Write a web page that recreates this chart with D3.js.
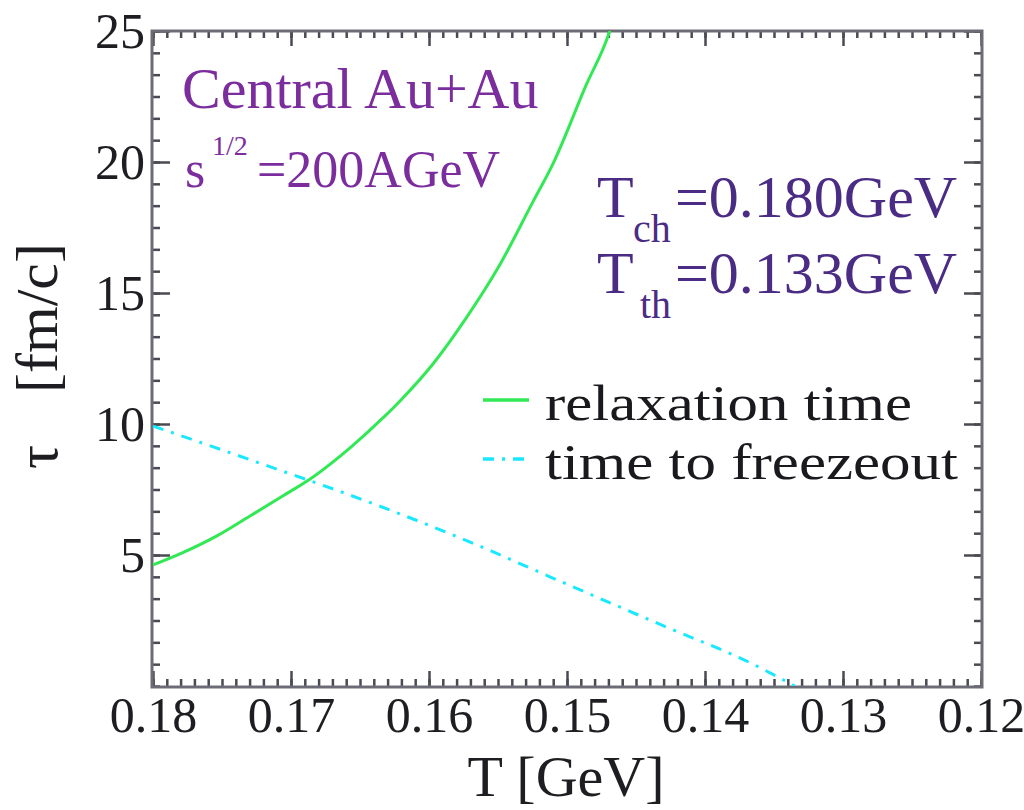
<!DOCTYPE html>
<html>
<head>
<meta charset="utf-8">
<script src="https://cdn.jsdelivr.net/npm/d3@7/dist/d3.min.js"></script>
<style>
  body { margin: 0; background: #fff; }
  svg { display: block; }
  .serif { font-family: "Liberation Serif", "Times New Roman", serif; }
  .tick text { font-family: "Liberation Serif", "Times New Roman", serif; font-size: 50px; fill: #1e1e22; }
  .tick line { stroke: #4a4a52; stroke-width: 2.5px; }
</style>
</head>
<body>
<div id="chart"></div>
<script>
// relaxation time curve (green, solid)
var relaxT   = [0.18, 0.1778, 0.1754, 0.1730, 0.1706, 0.1684, 0.1657, 0.1633, 0.1621, 0.1597, 0.1573, 0.1549, 0.1525, 0.1510, 0.1486, 0.1470, 0.1466];
var relaxTau = [4.62, 5.10, 5.72, 6.48, 7.25, 7.98, 9.10, 10.25, 10.88, 12.30, 14.05, 16.05, 18.45, 19.95, 22.95, 24.85, 25.5];

// time to freezeout (cyan, dash-dot)
var freezeT   = [0.18, 0.1725, 0.1638, 0.1565, 0.1512, 0.1428, 0.1367, 0.1335];
var freezeTau = [9.92, 8.55, 6.91, 5.38, 4.16, 2.25, 0.88, 0.0];

var xMajor = [0.18, 0.17, 0.16, 0.15, 0.14, 0.13, 0.12];
var yMajor = [5, 10, 15, 20, 25];

var width = 1024, height = 810;
var pLeft = 152, pRight = 982, pTop = 31, pBottom = 686;

var svg = d3.select("#chart").append("svg")
    .attr("width", width)
    .attr("height", height);

var x = d3.scaleLinear().domain([0.18, 0.12]).range([pLeft + 1, pRight - 1]);
var y = d3.scaleLinear().domain([0, 25]).range([pBottom, pTop]);

var xMinor = d3.range(0, 61).map(function(i){ return +(0.12 + i*0.001).toFixed(3); });
var yMinor = d3.range(0, 31).map(function(i){ return i*5/6; });

svg.append("clipPath").attr("id", "plotclip")
  .append("rect").attr("x", pLeft).attr("y", pTop).attr("width", pRight-pLeft).attr("height", pBottom-pTop);

function noDomain(g){ g.select(".domain").remove(); }

// minor ticks
svg.append("g").attr("transform", "translate(0," + pBottom + ")")
  .call(d3.axisBottom(x).tickValues(xMinor).tickSizeInner(-7).tickSizeOuter(0).tickFormat(""))
  .call(noDomain);
svg.append("g").attr("transform", "translate(0," + pTop + ")")
  .call(d3.axisTop(x).tickValues(xMinor).tickSizeInner(-7).tickSizeOuter(0).tickFormat(""))
  .call(noDomain);
svg.append("g").attr("transform", "translate(" + pLeft + ",0)")
  .call(d3.axisLeft(y).tickValues(yMinor).tickSizeInner(-8).tickSizeOuter(0).tickFormat(""))
  .call(noDomain);
svg.append("g").attr("transform", "translate(" + pRight + ",0)")
  .call(d3.axisRight(y).tickValues(yMinor).tickSizeInner(-8).tickSizeOuter(0).tickFormat(""))
  .call(noDomain);

// major ticks + labels
svg.append("g").attr("transform", "translate(0," + pBottom + ")")
  .call(d3.axisBottom(x).tickValues(xMajor).tickSizeInner(-15).tickSizeOuter(0).tickPadding(10).tickFormat(d3.format(".2f")))
  .call(noDomain);
svg.append("g").attr("transform", "translate(0," + pTop + ")")
  .call(d3.axisTop(x).tickValues(xMajor).tickSizeInner(-15).tickSizeOuter(0).tickFormat(""))
  .call(noDomain);
svg.append("g").attr("transform", "translate(" + pLeft + ",0)")
  .call(d3.axisLeft(y).tickValues(yMajor).tickSizeInner(-18).tickSizeOuter(0).tickPadding(7))
  .call(noDomain);
svg.append("g").attr("transform", "translate(" + pRight + ",0)")
  .call(d3.axisRight(y).tickValues(yMajor).tickSizeInner(-18).tickSizeOuter(0).tickFormat(""))
  .call(noDomain);

// frame
svg.append("rect")
  .attr("x", pLeft).attr("y", pTop)
  .attr("width", pRight-pLeft).attr("height", pBottom-pTop+1)
  .attr("fill", "none")
  .attr("stroke", "#6c6c76")
  .attr("stroke-width", 3);

// curves
var relaxData = relaxT.map(function(t, i){ return {T: t, tau: relaxTau[i]}; });
var freezeData = freezeT.map(function(t, i){ return {T: t, tau: freezeTau[i]}; });

var line = d3.line()
  .curve(d3.curveMonotoneX)
  .x(function(d){ return x(d.T); })
  .y(function(d){ return y(d.tau); });

var plot = svg.append("g").attr("clip-path", "url(#plotclip)");

plot.append("path")
  .datum(freezeData)
  .attr("d", line)
  .attr("fill", "none")
  .attr("stroke", "#1ae8ff")
  .attr("stroke-width", 3)
  .attr("stroke-dasharray", "11,8,3,8");

plot.append("path")
  .datum(relaxData)
  .attr("d", line)
  .attr("fill", "none")
  .attr("stroke", "#33e855")
  .attr("stroke-width", 3);

// axis titles
svg.append("text").attr("class", "serif")
  .attr("x", 566).attr("y", 796)
  .attr("text-anchor", "middle")
  .style("font-size", "58px").style("fill", "#1e1e22")
  .text("T [GeV]");

svg.append("text").attr("class", "serif")
  .attr("transform", "translate(57,457) rotate(-90)")
  .attr("text-anchor", "middle")
  .style("font-size", "60px").style("fill", "#1e1e22")
  .text("\u03c4");
svg.append("text").attr("class", "serif")
  .attr("transform", "translate(57,318) rotate(-90)")
  .attr("text-anchor", "middle")
  .style("font-size", "60px").style("fill", "#1e1e22")
  .text("[fm/c]");

// annotations
var purple = "#7b2d9e", darkPurple = "#4b2c84";

svg.append("text").attr("class", "serif")
  .attr("x", 182).attr("y", 108)
  .style("font-size", "58px").style("fill", purple)
  .text("Central Au+Au");
svg.append("text").attr("class", "serif")
  .attr("x", 185).attr("y", 187)
  .style("font-size", "52px").style("fill", purple)
  .text("s");
svg.append("text").attr("class", "serif")
  .attr("x", 212).attr("y", 155)
  .style("font-size", "28px").style("fill", purple)
  .text("1/2");
svg.append("text").attr("class", "serif")
  .attr("x", 257).attr("y", 187)
  .style("font-size", "52px").style("fill", purple)
  .text("=200AGeV");

[["ch", "=0.180GeV", 217, 633], ["th", "=0.133GeV", 293, 640]].forEach(function(r){
  svg.append("text").attr("class", "serif")
    .attr("x", 597).attr("y", r[2])
    .style("font-size", "60px").style("fill", darkPurple)
    .text("T");
  svg.append("text").attr("class", "serif")
    .attr("x", r[3]).attr("y", r[2] + 25)
    .style("font-size", "40px").style("fill", darkPurple)
    .text(r[0]);
  svg.append("text").attr("class", "serif")
    .attr("x", 675).attr("y", r[2])
    .style("font-size", "60px").style("fill", darkPurple)
    .text(r[1]);
});

// legend
var legend = [
  {label: "relaxation time", color: "#33e855", dash: null, y: 400, len: 367},
  {label: "time to freezeout", color: "#1ae8ff", dash: "11,8,3,8", y: 459, len: 413}
];
legend.forEach(function(d){
  svg.append("line")
    .attr("x1", 483).attr("x2", 529)
    .attr("y1", d.y).attr("y2", d.y)
    .attr("stroke", d.color)
    .attr("stroke-width", 3.5)
    .attr("stroke-dasharray", d.dash);
  svg.append("text").attr("class", "serif")
    .attr("x", 545).attr("y", d.y + 20)
    .attr("textLength", d.len)
    .attr("lengthAdjust", "spacingAndGlyphs")
    .style("font-size", "50px").style("fill", "#1a1a1e")
    .text(d.label);
});
</script>
</body>
</html>
